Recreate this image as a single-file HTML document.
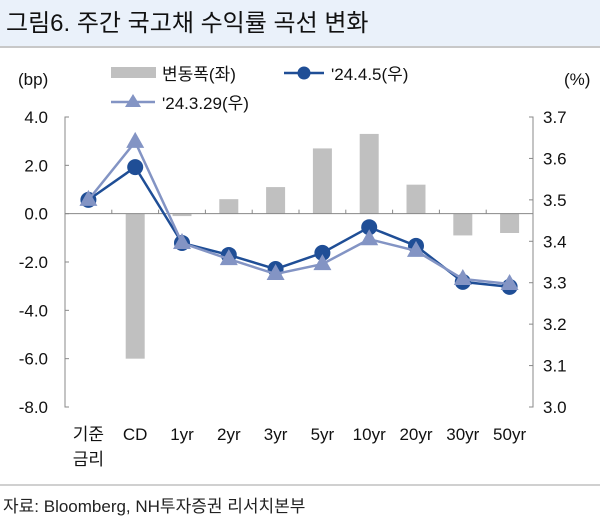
<!DOCTYPE html>
<html><head><meta charset="utf-8"><style>
body{margin:0;width:600px;height:519px;background:#fff;overflow:hidden;font-family:"Liberation Sans","Noto Sans CJK KR",sans-serif}
</style></head><body>
<svg width="600" height="519" xmlns="http://www.w3.org/2000/svg" font-family="Liberation Sans, Noto Sans CJK KR, sans-serif">
<rect x="0" y="0" width="600" height="46" fill="#eaf1fa"/>
<line x1="0" y1="47" x2="600" y2="47" stroke="#c8c8c8" stroke-width="2"/>
<text x="6" y="31" font-size="24" fill="#111">그림6. 주간 국고채 수익률 곡선 변화</text>
<text x="18" y="85" font-size="17" fill="#111">(bp)</text>
<text x="564" y="85" font-size="17" fill="#111">(%)</text>
<g>
<rect x="111" y="67" width="45" height="11" fill="#c0c0c0"/>
<text x="162" y="80" font-size="17" fill="#111">변동폭(좌)</text>
<line x1="284" y1="73" x2="324" y2="73" stroke="#1f4e96" stroke-width="2.5"/>
<circle cx="304" cy="73" r="6.5" fill="#1f4e96"/>
<text x="331" y="80" font-size="17" fill="#111">'24.4.5(우)</text>
<line x1="111" y1="102" x2="155" y2="102" stroke="#8394c4" stroke-width="2.5"/>
<polygon points="133,94 141,107 125,107" fill="#8394c4"/>
<text x="162" y="109" font-size="17" fill="#111">'24.3.29(우)</text>
</g>
<g id="chart"></g>
<line x1="0" y1="485" x2="600" y2="485" stroke="#d0d0d0" stroke-width="2"/>
<text x="3" y="512" font-size="17" fill="#222">자료: Bloomberg, NH투자증권 리서치본부</text>
</svg>
<script>
const categories=["기준|금리","CD","1yr","2yr","3yr","5yr","10yr","20yr","30yr","50yr"];
const changeBp=[0,-6.0,-0.1,0.6,1.1,2.7,3.3,1.2,-0.9,-0.8];
const yield0405=[3.50,3.579,3.396,3.367,3.333,3.372,3.434,3.389,3.302,3.290];
const yield0329=[3.50,3.640,3.396,3.357,3.321,3.345,3.405,3.377,3.309,3.297];
const leftTicks=[4,2,0,-2,-4,-6,-8];
const rightTicks=[3.7,3.6,3.5,3.4,3.3,3.2,3.1,3.0];
const NS="http://www.w3.org/2000/svg";
const L=65,R=533,T=117,B=407;
const yL=v=>T+(4-v)/12*(B-T);
const yR=v=>T+(3.7-v)/0.7*(B-T);
const bw=(R-L)/categories.length;
const xC=i=>L+bw*(i+0.5);
const g=document.getElementById('chart');
function mk(tag,attrs,parent){const e=document.createElementNS(NS,tag);for(const k in attrs)e.setAttribute(k,attrs[k]);(parent||g).appendChild(e);return e;}
let a=mk('path',{d:`M${L+4},${T}H${L}V${B}H${L+4}`,fill:'none',stroke:'#888','stroke-width':1});


a=mk('path',{d:`M${R-4},${T}H${R}V${B}H${R-4}`,fill:'none',stroke:'#888','stroke-width':1});


leftTicks.forEach(v=>{
 if(v!==4&&v!==-8)mk('line',{x1:L,x2:L+4,y1:yL(v),y2:yL(v),stroke:'#888'});
 const t=mk('text',{x:48,y:yL(v)+6,'font-size':17,'text-anchor':'end',fill:'#111'});t.textContent=v.toFixed(1);
 
 
});
rightTicks.forEach(v=>{
 if(v!==3.7&&v!==3.0)mk('line',{x1:R-4,x2:R,y1:yR(v),y2:yR(v),stroke:'#888'});
 const t=mk('text',{x:543,y:yR(v)+6,'font-size':17,fill:'#111'});t.textContent=v.toFixed(1);
 
 
});
changeBp.forEach((v,i)=>{
 const y0=yL(0),y1=yL(v);
 const r=mk('rect',{x:xC(i)-9.5,y:Math.min(y0,y1),width:19,height:Math.max(Math.abs(y1-y0),0.01),fill:'#c0c0c0'});
 
 
});
a=mk('line',{x1:L,x2:R,y1:yL(0),y2:yL(0),stroke:'#888'});


for(let i=1;i<categories.length;i++)mk('line',{x1:L+bw*i,x2:L+bw*i,y1:yL(0)-4,y2:yL(0),stroke:'#888'});
function series(data,color,marker,name){
 const p=mk('polyline',{points:data.map((v,i)=>xC(i)+','+yR(v)).join(' '),fill:'none',stroke:color,'stroke-width':2.5});
 
 
 data.forEach((v,i)=>{
  const x=xC(i),y=yR(v);let m;
  if(marker==='c')m=mk('circle',{cx:x,cy:y,r:8,fill:color});
  else m=mk('polygon',{points:`${x},${y-10} ${x+9},${y+6} ${x-9},${y+6}`,fill:color});
  
  
 });
}
series(yield0405,'#1f4e96','c','yield-0405');
series(yield0329,'#8394c4','t','yield-0329');
categories.forEach((c,i)=>{
 c.split('|').forEach((s,j)=>{
  const t=mk('text',{x:xC(i),y:440+j*25,'font-size':17,'text-anchor':'middle',fill:'#111'});t.textContent=s;
  
  
 });
});
</script>
</body></html>
